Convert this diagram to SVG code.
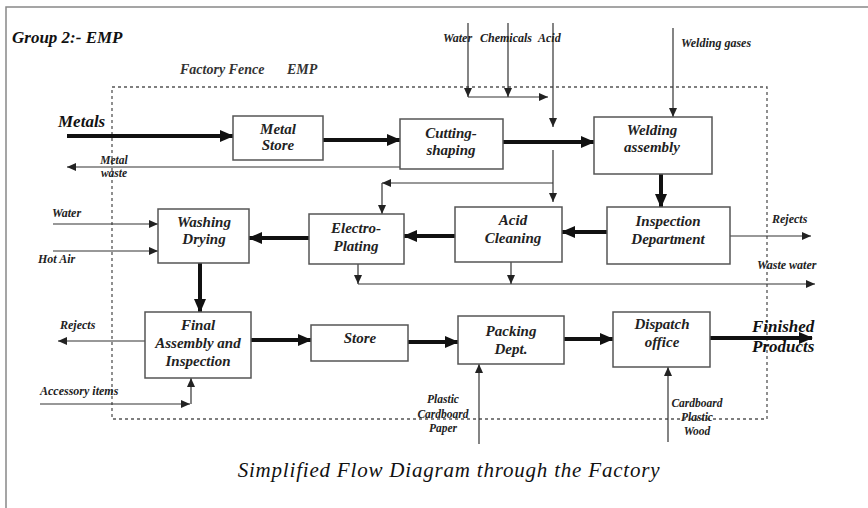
<svg xmlns="http://www.w3.org/2000/svg" width="868" height="508" viewBox="0 0 868 508">
<style>
.bx{fill:#fff;stroke:#555;stroke-width:1.5}
.bt{font-family:"Liberation Serif",serif;font-style:italic;font-weight:bold;font-size:15px;fill:#222;text-anchor:middle}
.lb{font-family:"Liberation Serif",serif;font-style:italic;font-weight:bold;font-size:12px;fill:#222}
.lbc{font-family:"Liberation Serif",serif;font-style:italic;font-weight:bold;font-size:11.5px;fill:#222;text-anchor:middle}
.big{font-family:"Liberation Serif",serif;font-style:italic;font-weight:bold;font-size:17px;fill:#111}
.thick{stroke:#111;stroke-width:4;fill:none}
.thin{stroke:#333;stroke-width:1.2;fill:none}
</style>
<defs>
<marker id="ah" markerUnits="userSpaceOnUse" markerWidth="14" markerHeight="12" refX="13" refY="6" orient="auto"><path d="M0,0 L14,6 L0,12 z" fill="#111"/></marker>
<marker id="as" markerUnits="userSpaceOnUse" markerWidth="9" markerHeight="8" refX="9" refY="4" orient="auto"><path d="M0,0 L9,4 L0,8 z" fill="#222"/></marker>
</defs>
<rect x="0" y="0" width="868" height="508" fill="#fff"/>
<rect x="6" y="7" width="900" height="600" fill="none" stroke="#888" stroke-width="1.5"/>
<rect x="112" y="87" width="655" height="332" fill="none" stroke="#555" stroke-width="1.3" stroke-dasharray="3,3"/>
<text x="12" y="43" class="big" style="font-size:17px">Group 2:- EMP</text>
<text x="180" y="74" class="big" style="font-size:14px;fill:#333">Factory Fence</text>
<text x="287" y="74" class="big" style="font-size:14px;fill:#333">EMP</text>
<text x="58" y="127" class="big">Metals</text>
<text x="752" y="332" class="big">Finished</text>
<text x="752" y="352" class="big">Products</text>
<text x="449" y="477" style="font-family:'Liberation Serif',serif;font-style:italic;font-size:21px;letter-spacing:0.8px;fill:#111" text-anchor="middle">Simplified Flow Diagram through the Factory</text>

<g id="connectors">
<line class="thick" x1="67" y1="136" x2="233" y2="136" marker-end="url(#ah)"/>
<line class="thick" x1="323" y1="140" x2="400" y2="140" marker-end="url(#ah)"/>
<line class="thick" x1="503" y1="142" x2="594" y2="142" marker-end="url(#ah)"/>
<line class="thick" x1="661" y1="174" x2="661" y2="207" marker-end="url(#ah)"/>
<line class="thick" x1="607" y1="232" x2="562" y2="232" marker-end="url(#ah)"/>
<line class="thick" x1="455" y1="236" x2="404" y2="236" marker-end="url(#ah)"/>
<line class="thick" x1="309" y1="238" x2="249" y2="238" marker-end="url(#ah)"/>
<line class="thick" x1="200" y1="263" x2="200" y2="312" marker-end="url(#ah)"/>
<line class="thick" x1="251" y1="340" x2="311" y2="340" marker-end="url(#ah)"/>
<line class="thick" x1="408" y1="342" x2="458" y2="342" marker-end="url(#ah)"/>
<line class="thick" x1="564" y1="339" x2="613" y2="339" marker-end="url(#ah)"/>
<line class="thick" x1="710" y1="338" x2="812" y2="338" marker-end="url(#ah)"/>

<line class="thin" x1="468" y1="23" x2="468" y2="97" marker-end="url(#as)"/>
<line class="thin" x1="508" y1="23" x2="508" y2="97" marker-end="url(#as)"/>
<line class="thin" x1="468" y1="97" x2="548" y2="97" marker-end="url(#as)"/>
<line class="thin" x1="553" y1="23" x2="553" y2="127" marker-end="url(#as)"/>
<line class="thin" x1="673" y1="28" x2="673" y2="117" marker-end="url(#as)"/>
<line class="thin" x1="553" y1="150" x2="553" y2="202" marker-end="url(#as)"/>
<line class="thin" x1="553" y1="183" x2="382" y2="183" marker-end="url(#as)"/>
<line class="thin" x1="382" y1="183" x2="382" y2="214" marker-end="url(#as)"/>
<line class="thin" x1="400" y1="167" x2="67" y2="167" marker-end="url(#as)"/>
<line class="thin" x1="53" y1="224" x2="158" y2="224" marker-end="url(#as)"/>
<line class="thin" x1="53" y1="251" x2="158" y2="251" marker-end="url(#as)"/>
<line class="thin" x1="730" y1="236" x2="811" y2="236" marker-end="url(#as)"/>
<line class="thin" x1="358" y1="264" x2="358" y2="284" marker-end="url(#as)"/>
<line class="thin" x1="511" y1="262" x2="511" y2="284" marker-end="url(#as)"/>
<line class="thin" x1="358" y1="284" x2="815" y2="284" marker-end="url(#as)"/>
<line class="thin" x1="145" y1="341" x2="58" y2="341" marker-end="url(#as)"/>
<line class="thin" x1="40" y1="404" x2="190" y2="404" marker-end="url(#as)"/>
<line class="thin" x1="191" y1="404" x2="191" y2="378" marker-end="url(#as)"/>
<line class="thin" x1="479" y1="444" x2="479" y2="364" marker-end="url(#as)"/>
<line class="thin" x1="668" y1="442" x2="668" y2="367" marker-end="url(#as)"/>
</g>

<g id="labels">
<text x="443" y="42" class="lb">Water</text>
<text x="480" y="42" class="lb">Chemicals</text>
<text x="538" y="42" class="lb">Acid</text>
<text x="681" y="47" class="lb">Welding gases</text>
<text x="114" y="164" class="lbc">Metal</text>
<text x="114" y="177" class="lbc">waste</text>
<text x="52" y="217" class="lb">Water</text>
<text x="38" y="263" class="lb">Hot Air</text>
<text x="772" y="223" class="lb">Rejects</text>
<text x="757" y="269" class="lb">Waste water</text>
<text x="60" y="329" class="lb">Rejects</text>
<text x="40" y="395" class="lb">Accessory items</text>
<text x="443" y="403" class="lbc">Plastic</text>
<text x="443" y="418" class="lbc">Cardboard</text>
<text x="443" y="432" class="lbc">Paper</text>
<text x="697" y="407" class="lbc">Cardboard</text>
<text x="697" y="421" class="lbc">Plastic</text>
<text x="697" y="435" class="lbc">Wood</text>
</g>

<g id="metal-store"><rect class="bx" x="233" y="116" width="90" height="44"/><text class="bt" x="278" y="134">Metal</text><text class="bt" x="278" y="150">Store</text></g>
<g id="cutting-shaping"><rect class="bx" x="400" y="119" width="103" height="50"/><text class="bt" x="451" y="138">Cutting-</text><text class="bt" x="451" y="155">shaping</text></g>
<g id="welding-assembly"><rect class="bx" x="594" y="117" width="118" height="57"/><text class="bt" x="652" y="135">Welding</text><text class="bt" x="652" y="152">assembly</text></g>
<g id="inspection-department"><rect class="bx" x="607" y="207" width="123" height="57"/><text class="bt" x="668" y="226">Inspection</text><text class="bt" x="668" y="244">Department</text></g>
<g id="acid-cleaning"><rect class="bx" x="455" y="207" width="107" height="55"/><text class="bt" x="513" y="225">Acid</text><text class="bt" x="513" y="243">Cleaning</text></g>
<g id="electro-plating"><rect class="bx" x="309" y="214" width="95" height="50"/><text class="bt" x="356" y="233">Electro-</text><text class="bt" x="356" y="251">Plating</text></g>
<g id="washing-drying"><rect class="bx" x="158" y="209" width="91" height="54"/><text class="bt" x="204" y="227">Washing</text><text class="bt" x="204" y="244">Drying</text></g>
<g id="final-assembly"><rect class="bx" x="145" y="312" width="106" height="66"/><text class="bt" x="198" y="330">Final</text><text class="bt" x="198" y="348">Assembly and</text><text class="bt" x="198" y="366">Inspection</text></g>
<g id="store"><rect class="bx" x="311" y="325" width="97" height="36"/><text class="bt" x="360" y="343">Store</text></g>
<g id="packing-dept"><rect class="bx" x="458" y="316" width="106" height="48"/><text class="bt" x="511" y="336">Packing</text><text class="bt" x="511" y="354">Dept.</text></g>
<g id="dispatch-office"><rect class="bx" x="613" y="312" width="97" height="55"/><text class="bt" x="662" y="329">Dispatch</text><text class="bt" x="662" y="347">office</text></g>
</svg>
